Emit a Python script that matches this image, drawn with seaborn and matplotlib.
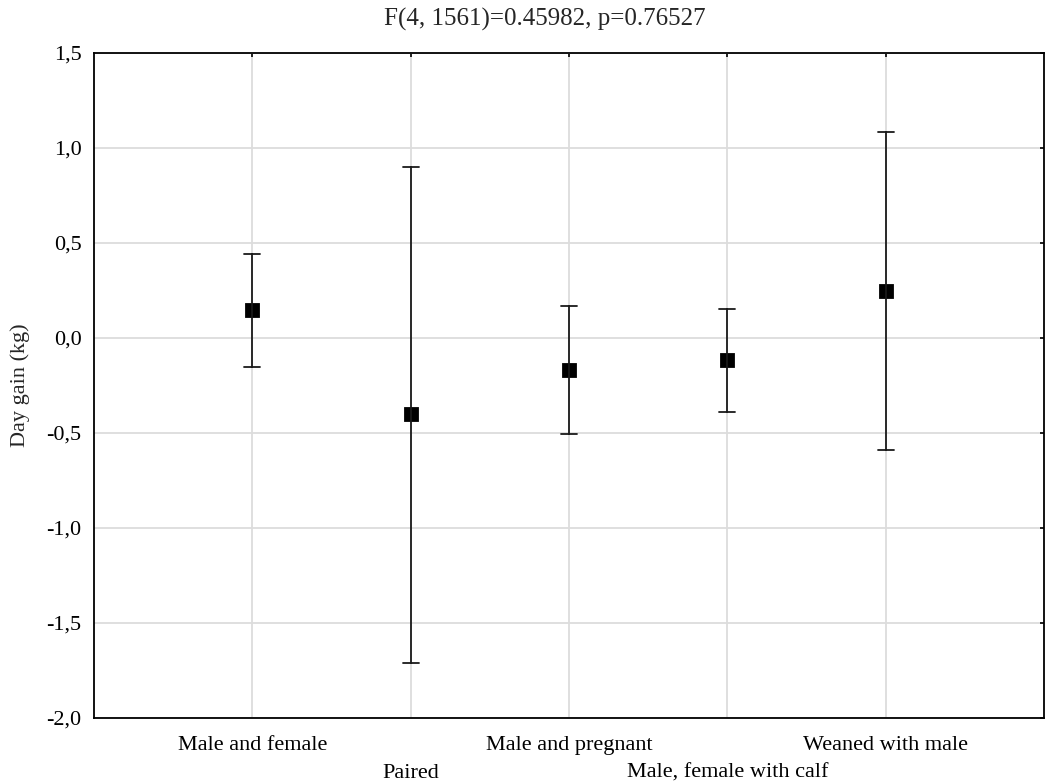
import matplotlib
matplotlib.use("Agg")
import matplotlib.pyplot as plt
from matplotlib.ticker import FuncFormatter
import seaborn as sns
import pandas as pd

categories = ["Male and female", "Paired", "Male and pregnant",
              "Male, female with calf", "Weaned with male"]
means = [0.148, -0.400, -0.169, -0.116, 0.248]
lower = [-0.153, -1.710, -0.506, -0.390, -0.590]
upper = [0.443, 0.900, 0.169, 0.153, 1.086]
yticks = [-2.0, -1.5, -1.0, -0.5, 0.0, 0.5, 1.0, 1.5]

rows = []
for c, m, lo, hi in zip(categories, means, lower, upper):
    for v in (lo, m, hi):
        rows.append({"group": c, "value": v})
df = pd.DataFrame(rows)

sns.set_style("white")
plt.rcParams["font.family"] = ["Liberation Serif", "DejaVu Serif"]
plt.rcParams["font.size"] = 16

fig = plt.figure(figsize=(10.45, 7.84), dpi=100)
ax = fig.add_axes([0.090, 0.0842, 0.909, 0.8482])

sns.pointplot(data=df, x="group", y="value", order=categories,
              estimator="median", errorbar=lambda v: (v.min(), v.max()),
              color="black", markers="s", linestyles="none",
              markersize=8, capsize=0.1,
              err_kws={"color": "#1a1a1a", "linewidth": 1.3},
              ax=ax, zorder=3)

ax.set_xlim(-1, 5)
ax.set_ylim(-2.0, 1.5)
ax.set_yticks(yticks)
ax.yaxis.set_major_formatter(FuncFormatter(lambda v, p: f"{v:.1f}".replace(".", ",")))

even = [i for i in range(len(categories)) if i % 2 == 0]
odd = [i for i in range(len(categories)) if i % 2 == 1]
ax.set_xticks(even)
ax.set_xticklabels([categories[i] for i in even])
ax.set_xticks(odd, minor=True)
ax.set_xticklabels([categories[i] for i in odd], minor=True)
ax.set_xlabel("")
ax.set_ylabel("")
fig.text(20 / 1045, 1 - 385 / 784, "Day gain (kg)", rotation=90,
         ha="center", va="center", fontsize=16)

ax.grid(True, which="major", color="#dcdcdc", linewidth=1.3)
ax.grid(True, which="minor", axis="x", color="#dcdcdc", linewidth=1.3)
ax.set_axisbelow(True)
for s in ax.spines.values():
    s.set_visible(True)
    s.set_color("black")
    s.set_linewidth(1.3)
ax.tick_params(which="both", direction="in", length=3, width=1.2, top=True, right=True,
               labelsize=16, colors="black")
ax.tick_params(axis="x", which="major", pad=13)
ax.tick_params(axis="x", which="minor", pad=33)
ax.tick_params(axis="y", pad=9)

fig.text(545 / 1045, 1 - 19 / 784, "F(4, 1561)=0.45982, p=0.76527",
         ha="center", va="center", fontsize=18)

fig.savefig("out.png", dpi=100)
